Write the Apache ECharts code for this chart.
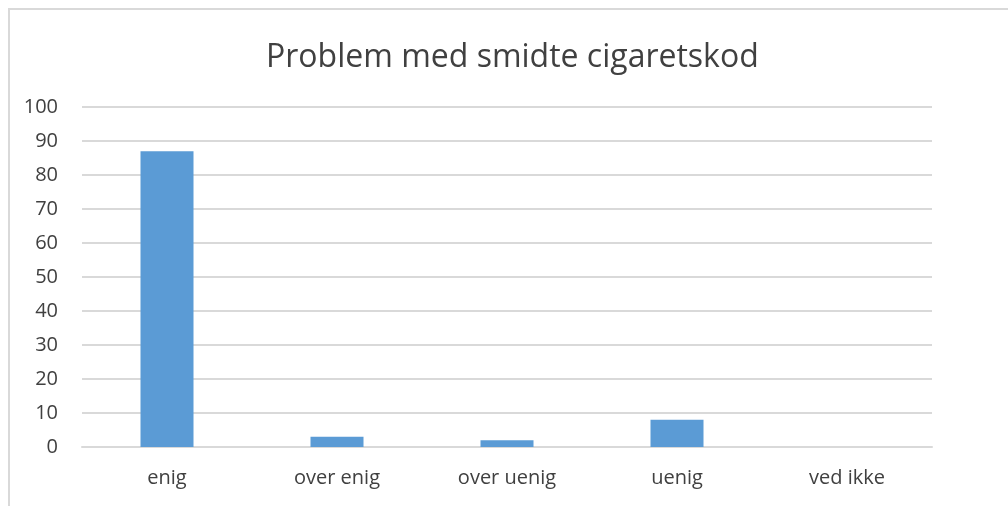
<!DOCTYPE html>
<html>
<head>
<meta charset="utf-8">
<script src="https://cdn.jsdelivr.net/npm/echarts@6/dist/echarts.min.js"></script>
<style>
  html, body { margin: 0; padding: 0; background: #fff; }
  #frame {
    position: absolute; left: 8px; top: 8px; width: 1000px; height: 498px;
    border-left: 2px solid #d9d9d9; border-top: 2px solid #d9d9d9;
    box-sizing: border-box;
  }
  #chart { position: absolute; left: 0; top: 0; width: 1008px; height: 506px; }
</style>
</head>
<body>
<div id="frame"></div>
<div id="chart"></div>
<script>
const categories = ['enig', 'over enig', 'over uenig', 'uenig', 'ved ikke']
const values = [87, 3, 2, 8, 0]
const yTicks = { min: 0, max: 100, interval: 10 }

const chart = echarts.init(document.getElementById('chart'))
const font = "Open Sans, Liberation Sans, sans-serif"

chart.setOption({
  animation: false,
  title: {
    text: 'Problem med smidte cigaretskod',
    left: 261,
    top: 37,
    textStyle: { color: '#404040', fontSize: 32, fontWeight: 'normal', fontFamily: font },
  },
  grid: { left: 82, right: 76, top: 107, bottom: 59 },
  xAxis: {
    type: 'category',
    data: categories,
    axisLine: { lineStyle: { color: '#d9d9d9', width: 2 } },
    axisTick: { show: false },
    axisLabel: { color: '#404040', fontSize: 20, fontFamily: font, margin: 21 },
  },
  yAxis: {
    type: 'value',
    ...yTicks,
    axisLine: { show: false },
    axisTick: { show: false },
    axisLabel: { color: '#404040', fontSize: 20, fontFamily: font, margin: 24 },
    splitLine: { lineStyle: { color: '#d9d9d9', width: 2 } },
  },
  series: [
    {
      type: 'bar',
      data: values,
      barWidth: 53,
      itemStyle: { color: '#5b9bd5' },
    },
  ],
})
</script>
</body>
</html>
